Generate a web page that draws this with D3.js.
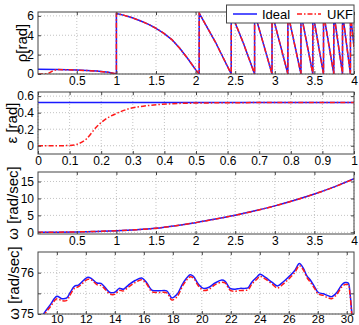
<!DOCTYPE html>
<html>
<head>
<meta charset="utf-8">
<script src="https://cdn.jsdelivr.net/npm/d3@7"></script>
<style>
  body { margin: 0; background: #fff; }
  text { font-family: "Liberation Sans", Arial, sans-serif; fill: #000; }
</style>
</head>
<body>
<svg id="chart" width="359" height="325"></svg>
<script>
// ---- ρ : rotor angle (rad) vs time (s) ----
const rhoIdealT = [0.01, 0.25, 0.5, 0.75, 0.9, 1.0, 1.0, 1.1, 1.2, 1.3, 1.4, 1.5, 1.6, 1.7, 1.8, 1.9, 2.0, 2.045,
                   2.045, 2.25, 2.45, 2.45, 2.6, 2.745, 2.745, 2.965, 2.965, 3.165, 3.165, 3.33, 3.33, 3.48,
                   3.48, 3.615, 3.615, 3.745, 3.745, 3.855, 3.855, 3.955, 3.955, 4.0];
const rhoIdeal  = [0.5, 0.47, 0.41, 0.31, 0.17, 0.0, 6.25, 6.05, 5.8, 5.5, 5.15, 4.72, 4.2, 3.55, 2.65, 1.6, 0.45, 0.0,
                   6.28, 3.3, 0.0, 6.28, 3.25, 0.0, 6.28, 0.0, 6.28, 0.0, 6.28, 0.0, 6.28, 0.0,
                   6.28, 0.0, 6.28, 0.0, 6.28, 0.0, 6.28, 0.0, 6.28, 2.8];
const rhoUkfT   = [0.01, 0.1, 0.14, 0.2, 0.25, 0.5, 0.75, 0.9, 1.0, 1.0, 1.1, 1.2, 1.3, 1.4, 1.5, 1.6, 1.7, 1.8, 1.9, 2.0, 2.045,
                   2.045, 2.25, 2.45, 2.45, 2.6, 2.745, 2.745, 2.965, 2.965, 3.165, 3.165, 3.33, 3.33, 3.48,
                   3.48, 3.615, 3.615, 3.745, 3.745, 3.855, 3.855, 3.955, 3.955, 4.0];
const rhoUkf    = [0.0, 0.01, 0.06, 0.35, 0.46, 0.41, 0.31, 0.17, 0.0, 6.25, 6.05, 5.8, 5.5, 5.15, 4.72, 4.2, 3.55, 2.65, 1.6, 0.45, 0.0,
                   6.28, 3.3, 0.0, 6.28, 3.25, 0.0, 6.28, 0.0, 6.28, 0.0, 6.28, 0.0, 6.28, 0.0,
                   6.28, 0.0, 6.28, 0.0, 6.28, 0.0, 6.28, 0.0, 6.28, 2.8];

// ---- ε : angle error (rad) vs time (s) ----
const epsIdealT = [0, 1];
const epsIdeal  = [0.5236, 0.5236];
const epsUkfT   = [0, 0.05, 0.1, 0.122, 0.154, 0.185, 0.217, 0.248, 0.29, 0.343, 0.406, 0.448, 0.5, 0.6, 0.7, 0.8, 0.9, 1.0];
const epsUkf    = [0, 0, 0.003, 0.016, 0.085, 0.227, 0.33, 0.39, 0.45, 0.483, 0.504, 0.512, 0.516, 0.52, 0.522, 0.523, 0.5236, 0.5236];

// ---- ω : speed ramp (rad/sec) vs time (s) ----
const wRampT     = [0.01, 0.25, 0.5, 0.75, 1.0, 1.25, 1.5, 1.75, 2.0, 2.25, 2.5, 2.75, 3.0, 3.25, 3.5, 3.75, 4.0];
const wRampIdeal = [0, 0.03, 0.1, 0.25, 0.45, 0.75, 1.2, 1.95, 2.85, 3.9, 5.05, 6.35, 7.8, 9.45, 11.3, 13.4, 15.8];
const wRampUkf   = [0, 0.04, 0.11, 0.26, 0.47, 0.76, 1.2, 1.95, 2.86, 3.9, 5.04, 6.34, 7.8, 9.44, 11.3, 13.38, 15.78];

// ---- ω : steady-state speed (rad/sec) vs time (s) ----
const wSteadyT = [8.95, 9.08, 9.54, 10.0, 10.34, 10.69, 10.92, 11.21, 11.49, 11.83, 12.14, 12.41, 12.76, 13.05, 13.38,
                  13.67, 14.02, 14.3, 14.59, 14.94, 15.4, 15.86, 16.21, 16.55, 17.0, 17.58, 17.93, 18.28, 18.73,
                  19.2, 19.42, 19.77, 20.11, 20.46, 20.92, 21.38, 21.61, 21.95, 22.3, 22.64, 22.99, 23.21, 23.45,
                  23.79, 24.02, 24.37, 24.83, 25.21, 25.63, 26.09, 26.43, 26.73, 27.0, 27.24, 27.51, 27.81, 28.04,
                  28.38, 28.66, 28.96, 29.31, 29.65, 29.88, 30.1, 30.22, 30.33, 30.4];
const wSteadyIdeal = [74.92, 75.0, 75.22, 75.43, 75.37, 75.39, 75.52, 75.67, 75.70, 75.81, 75.89, 75.85, 75.75, 75.74, 75.62,
                      75.52, 75.53, 75.62, 75.60, 75.70, 75.81, 75.87, 75.75, 75.58, 75.56, 75.56, 75.39, 75.47, 75.76,
                      75.95, 75.91, 75.72, 75.62, 75.64, 75.75, 75.82, 75.79, 75.62, 75.60, 75.62, 75.62, 75.64, 75.77,
                      75.89, 75.96, 75.89, 75.77, 75.68, 75.78, 75.93, 76.06, 76.22, 76.11, 75.93, 75.81, 75.64, 75.52,
                      75.49, 75.45, 75.42, 75.52, 75.70, 75.76, 75.75, 75.52, 75.1, 74.8];
const wSteadyUkf   = [74.88, 74.96, 75.17, 75.37, 75.32, 75.33, 75.46, 75.62, 75.66, 75.76, 75.84, 75.82, 75.71, 75.69, 75.58,
                      75.48, 75.48, 75.57, 75.56, 75.65, 75.76, 75.83, 75.72, 75.54, 75.52, 75.51, 75.34, 75.41, 75.71,
                      75.90, 75.87, 75.68, 75.57, 75.59, 75.71, 75.77, 75.75, 75.58, 75.55, 75.57, 75.57, 75.59, 75.72,
                      75.84, 75.91, 75.85, 75.73, 75.63, 75.73, 75.88, 76.01, 76.17, 76.07, 75.89, 75.76, 75.60, 75.48,
                      75.45, 75.40, 75.37, 75.47, 75.65, 75.71, 75.71, 75.48, 75.05, 74.75];

// ---- ticks and labels ----
const rampTicks   = [0.5, 1, 1.5, 2, 2.5, 3, 3.5, 4];
const rampLabels  = ["0.5", "1", "1.5", "2", "2.5", "3", "3.5", "4"];
const epsXTicks   = [0, 0.1, 0.2, 0.3, 0.4, 0.5, 0.6, 0.7, 0.8, 0.9, 1];
const epsXLabels  = ["0", "0.1", "0.2", "0.3", "0.4", "0.5", "0.6", "0.7", "0.8", "0.9", "1"];
const steadyXTicks  = [10, 12, 14, 16, 18, 20, 22, 24, 26, 28, 30];
const steadyXLabels = ["10", "12", "14", "16", "18", "20", "22", "24", "26", "28", "30"];
const rhoYTicks   = [0, 2, 4, 6];
const rhoYLabels  = ["0", "2", "4", "6"];
const epsYTicks   = [0, 0.2, 0.4, 0.6];
const epsYLabels  = ["0", "0.2", "0.4", "0.6"];
const rampYTicks  = [0, 5, 10, 15];
const rampYLabels = ["0", "5", "10", "15"];
const steadyYTicks  = [75, 75.5, 76];
const steadyYLabels = ["75", "", "76"];
const legendNames = ["Ideal", "UKF"];

const BLUE = "#1a1aff", RED = "#ff1a1a", DASH = "5,2,1.5,2";
const L = 38, R = 354, PH = 62;
const svg = d3.select("#chart");

function zip(t, v) { return t.map((d, i) => [d, v[i]]); }

function panel(cfg, idx) {
  const top = cfg.top, bottom = top + PH;
  const x = d3.scaleLinear().domain(cfg.xDomain).range([L, R]);
  const y = d3.scaleLinear().domain(cfg.yDomain).range([bottom, top]);
  const g = svg.append("g");

  // dotted grid
  g.selectAll(null).data(cfg.xTicks).join("line")
    .attr("x1", d => x(d)).attr("x2", d => x(d)).attr("y1", top).attr("y2", bottom)
    .attr("stroke", "#b4b4b4").attr("stroke-width", 0.8).attr("stroke-dasharray", "1,2");
  g.selectAll(null).data(cfg.yTicks).join("line")
    .attr("x1", L).attr("x2", R).attr("y1", d => y(d)).attr("y2", d => y(d))
    .attr("stroke", "#b4b4b4").attr("stroke-width", 0.8).attr("stroke-dasharray", "1,2");

  // series, clipped to the axes box
  const clipId = "clip" + idx;
  svg.append("clipPath").attr("id", clipId).append("rect")
    .attr("x", L).attr("y", top).attr("width", R - L).attr("height", PH);
  const plot = g.append("g").attr("clip-path", `url(#${clipId})`);
  const line = d3.line().x(d => x(d[0])).y(d => y(d[1])).curve(cfg.curve || d3.curveLinear);
  plot.append("path").attr("d", line(zip(cfg.idealT, cfg.ideal)))
    .attr("fill", "none").attr("stroke", BLUE).attr("stroke-width", 1.5).attr("stroke-linejoin", "round");
  plot.append("path").attr("d", line(zip(cfg.ukfT, cfg.ukf)))
    .attr("fill", "none").attr("stroke", RED).attr("stroke-width", 1.5).attr("stroke-dasharray", DASH);

  // axes with inward ticks
  const fmtX = (d, i) => cfg.xLabels[i];
  const fmtY = (d, i) => cfg.yLabels[i];
  const fs = cfg.tickFont || 12;
  const ax = [
    g.append("g").attr("transform", `translate(0,${bottom})`)
      .call(d3.axisBottom(x).tickValues(cfg.xTicks).tickFormat(fmtX).tickSize(-3).tickPadding(cfg.xPad || 2.5)),
    g.append("g").attr("transform", `translate(0,${top})`)
      .call(d3.axisTop(x).tickValues(cfg.xTicks).tickFormat("").tickSize(-3)),
    g.append("g").attr("transform", `translate(${L},0)`)
      .call(d3.axisLeft(y).tickValues(cfg.yTicks).tickFormat(fmtY).tickSize(-3).tickPadding(4)),
    g.append("g").attr("transform", `translate(${R},0)`)
      .call(d3.axisRight(y).tickValues(cfg.yTicks).tickFormat("").tickSize(-3))
  ];
  ax.forEach(a => {
    a.select(".domain").remove();
    a.selectAll("line").attr("stroke", "#444");
    a.selectAll("text").attr("font-size", 12).attr("fill", "#000")
      .style("font-family", '"Liberation Sans", Arial, sans-serif');
  });
  ax[0].selectAll("text").attr("font-size", fs);

  g.append("rect").attr("x", L).attr("y", top).attr("width", R - L).attr("height", PH)
    .attr("fill", "none").attr("stroke", "#444").attr("stroke-width", 1);

  g.append("text")
    .attr("transform", `translate(${cfg.labelX},${top + PH / 2}) rotate(-90)`)
    .attr("text-anchor", "middle").attr("dominant-baseline", "central")
    .attr("font-size", 15).text(cfg.yLabel);
  return g;
}

panel({ top: 12, xDomain: [0.01, 4], yDomain: [0, 6.4],
        xTicks: rampTicks, xLabels: rampLabels, yTicks: rhoYTicks, yLabels: rhoYLabels,
        idealT: rhoIdealT, ideal: rhoIdeal, ukfT: rhoUkfT, ukf: rhoUkf,
        yLabel: "ρ[rad]", labelX: 21 }, 0);

panel({ top: 92, xDomain: [0, 1], yDomain: [-0.1, 0.65],
        xTicks: epsXTicks, xLabels: epsXLabels, yTicks: epsYTicks, yLabels: epsYLabels,
        idealT: epsIdealT, ideal: epsIdeal, ukfT: epsUkfT, ukf: epsUkf, curve: d3.curveMonotoneX,
        yLabel: "ε [rad]", labelX: 11 }, 1);

panel({ top: 172, xDomain: [0.01, 4], yDomain: [-0.5, 17.8],
        xTicks: rampTicks, xLabels: rampLabels, yTicks: rampYTicks, yLabels: rampYLabels,
        idealT: wRampT, ideal: wRampIdeal, ukfT: wRampT, ukf: wRampUkf, curve: d3.curveMonotoneX,
        yLabel: "ω [rad/sec]", labelX: 12 }, 2);

panel({ top: 252, xDomain: [8.7, 30.5], yDomain: [75, 76.5],
        xTicks: steadyXTicks, xLabels: steadyXLabels, yTicks: steadyYTicks, yLabels: steadyYLabels,
        idealT: wSteadyT, ideal: wSteadyIdeal, ukfT: wSteadyT, ukf: wSteadyUkf, curve: d3.curveCatmullRom,
        yLabel: "ω [rad/sec]", labelX: 13, tickFont: 11.5, xPad: 1.2 }, 3);

// legend in the top panel
const lg = svg.append("g");
lg.append("rect").attr("x", 226.5).attr("y", 5).attr("width", R - 226.5).attr("height", 18)
  .attr("fill", "#fff").attr("stroke", "#444").attr("stroke-width", 1);
lg.append("line").attr("x1", 233).attr("x2", 257).attr("y1", 14).attr("y2", 14)
  .attr("stroke", BLUE).attr("stroke-width", 1.5);
lg.append("text").attr("x", 262).attr("y", 14).attr("dominant-baseline", "central")
  .attr("font-size", 13).text(legendNames[0]);
lg.append("line").attr("x1", 297).attr("x2", 321).attr("y1", 14).attr("y2", 14)
  .attr("stroke", RED).attr("stroke-width", 1.5).attr("stroke-dasharray", DASH);
lg.append("text").attr("x", 327).attr("y", 14).attr("dominant-baseline", "central")
  .attr("font-size", 13).text(legendNames[1]);
</script>
</body>
</html>
